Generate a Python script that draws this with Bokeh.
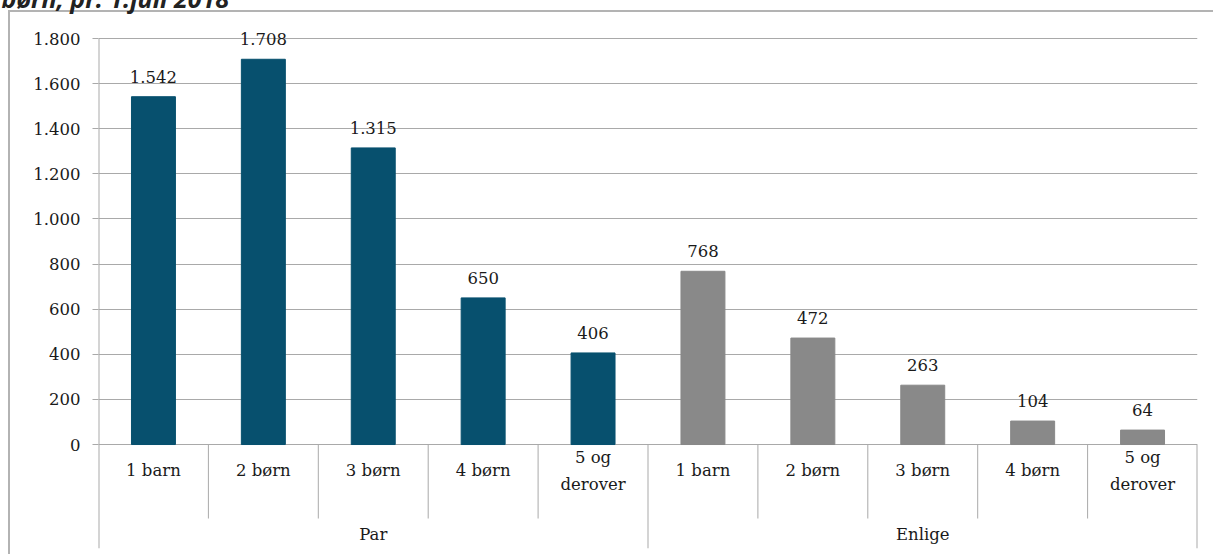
from bokeh.plotting import figure
from bokeh.models import FactorRange, Range1d, FixedTicker, Title, ColumnDataSource
from bokeh.embed import file_html
from bokeh.resources import INLINE
from bokeh.core.properties import value

# ---- data ----
groups = ["Par", "Enlige"]
subcategories = ["1 barn", "2 børn", "3 børn", "4 børn", "5 og\nderover"]
par_values = [1542, 1708, 1315, 650, 406]
enlige_values = [768, 472, 263, 104, 64]
y_ticks = [0, 200, 400, 600, 800, 1000, 1200, 1400, 1600, 1800]
title_text = "børn, pr. 1.juli 2018"

PAR_COLOR = "#07506e"
ENL_COLOR = "#898989"
GRID = "#a9a9a9"
BOX = "#b3b3b3"
TXT = "#1a1a1a"
FONT = "DejaVu Serif"
FS = "16.5px"
SHIFT = 34  # canvas starts this many px above the window (title is cut off there)


def fmt(v):
    return f"{v:,}".replace(",", ".")


factors = [(g, s) for g in groups for s in subcategories]
values = par_values + enlige_values
colors = [PAR_COLOR] * len(par_values) + [ENL_COLOR] * len(enlige_values)

src = ColumnDataSource(dict(
    x=factors,
    top=values,
    color=colors,
    label=[fmt(v) for v in values],
    sub=[s for _ in groups for s in subcategories],
))

p = figure(
    width=1213, height=554 + SHIFT,
    x_range=FactorRange(*factors, factor_padding=0, group_padding=0, range_padding=0),
    y_range=Range1d(-461, 1871),
    output_backend="svg", toolbar_location=None,
    min_border_left=98, min_border_right=16, min_border_top=22 + SHIFT, min_border_bottom=6,
)
p.title = Title(text=title_text, align="left", offset=-97, standoff=16,
                text_font="Open Sans", text_font_style="bold italic",
                text_font_size="25px", text_color="#222222")
p.border_fill_color = None
# outer chart box (left and top edges; right/bottom lie outside the window)
p.styles = {
    "margin-top": f"-{SHIFT}px",
    "background": (
        f"linear-gradient({BOX},{BOX}) 8px {10 + SHIFT}px / 2px 100% no-repeat, "
        f"linear-gradient({BOX},{BOX}) 8px {10 + SHIFT}px / 100% 2px no-repeat, white"
    ),
}

p.xaxis.visible = False
p.xgrid.visible = False
p.outline_line_color = None

p.ygrid.ticker = FixedTicker(ticks=y_ticks)
p.ygrid.grid_line_color = GRID
p.ygrid.grid_line_width = 1

yax = p.yaxis[0]
yax.ticker = FixedTicker(ticks=y_ticks)
yax.major_label_overrides = {t: fmt(t) for t in y_ticks}
yax.axis_line_color = None
yax.major_tick_out = 6
yax.major_tick_in = 0
yax.minor_tick_line_color = None
yax.major_tick_line_color = GRID
yax.major_label_standoff = 12
yax.major_label_text_font = FONT
yax.major_label_text_font_size = FS
yax.major_label_text_color = TXT

# bars
p.vbar(x="x", top="top", bottom=0, width=0.4, color="color", source=src)

# axis line (from top tick down through category area)
p.segment(x0=[0], y0=[y_ticks[-1]], x1=[0], y1=[-461], line_color=GRID, line_width=2)
# separators between sub categories
inner = [1, 2, 3, 4, 6, 7, 8, 9]
p.segment(x0=inner, y0=[0] * len(inner), x1=inner, y1=[-328] * len(inner),
          line_color=GRID, line_width=1)
# group separators
outer = [5, 10]
p.segment(x0=outer, y0=[0] * 2, x1=outer, y1=[-461] * 2, line_color=GRID, line_width=[1, 2])

# category labels
p.text(x="x", y=-117, text="sub", source=src, text_align="center", text_baseline="middle",
       text_font=value(FONT), text_font_size=FS, text_color=TXT, text_line_height=1.4)
# group labels
p.text(x=groups, y=[-399] * 2, text=groups, text_align="center", text_baseline="middle",
       text_font=value(FONT), text_font_size=FS, text_color=TXT)
# data labels
p.text(x="x", y="top", text="label", source=src, y_offset=-20, text_align="center",
       text_baseline="middle", text_font=value(FONT), text_font_size=FS, text_color=TXT)

open("out.html", "w").write(file_html(p, INLINE))
